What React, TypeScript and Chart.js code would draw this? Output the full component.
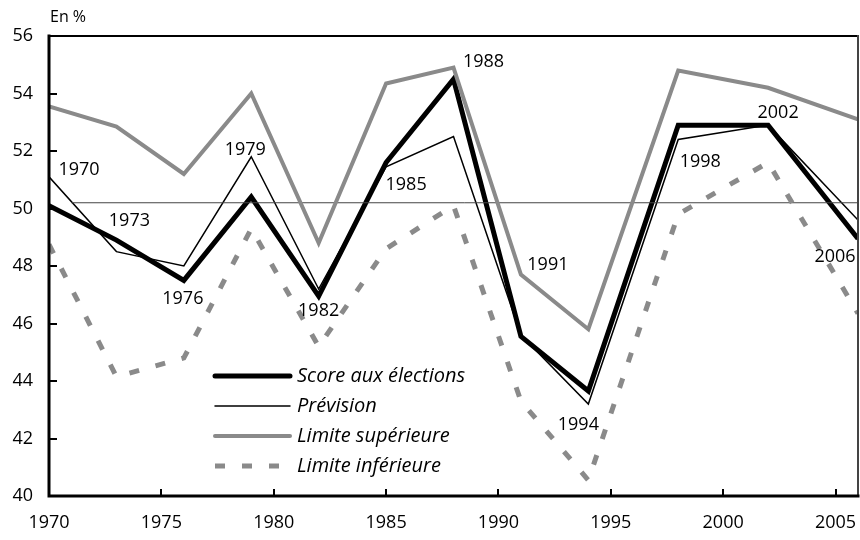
import React, { useEffect, useRef } from "react";
import { Chart, registerables } from "chart.js";

Chart.register(...registerables);

// ---- data ----
const years = [1970, 1973, 1976, 1979, 1982, 1985, 1988, 1991, 1994, 1998, 2002, 2006];
const score = [50.1, 48.9, 47.5, 50.4, 46.95, 51.6, 54.5, 45.55, 43.65, 52.9, 52.9, 48.95];
const prevision = [51.1, 48.5, 48.0, 51.8, 47.2, 51.45, 52.5, 45.6, 43.2, 52.4, 52.9, 49.6];
const upper = [53.55, 52.85, 51.2, 54.0, 48.8, 54.35, 54.9, 47.7, 45.8, 54.8, 54.2, 53.1];
const lower = [48.75, 44.15, 44.8, 49.3, 45.2, 48.6, 50.1, 43.3, 40.55, 49.8, 51.6, 46.35];
const yearLabels = years.map(String);
const referenceLevel = 50.2;
const referenceYears = [1971, 2006];
const seriesNames = ["Score aux élections", "Prévision", "Limite supérieure", "Limite inférieure"];
const unitLabel = "En %";
const xMin = 1970, xMax = 2006, xStep = 5;
const yMin = 40, yMax = 56, yStep = 2;

// ---- styles ----
const FONT = '"Open Sans", sans-serif';
const GREY = "#8a8a8a";
// pixel offsets of each year label from its score point
const labelOffsets: [number, number][] = [
  [30, -36], [13, -19], [-1, 18], [-6, -47], [0, 15], [20, 22],
  [30, -17], [27, -72], [-10, 34], [22, 37], [10, -12], [-23, 18],
];

const pts = (vals: number[]) => years.map((x, i) => ({ x, y: vals[i] }));

const overlay = {
  id: "overlay",
  afterDraw(chart: any) {
    const { ctx, chartArea: a, scales } = chart;
    const xs = scales.x, ys = scales.y;
    ctx.save();
    // frame
    ctx.lineCap = "square";
    ctx.strokeStyle = "#000";
    ctx.lineWidth = 2;
    ctx.beginPath();
    ctx.moveTo(a.left, a.top);
    ctx.lineTo(a.right, a.top);
    ctx.stroke();
    ctx.strokeStyle = "#444";
    ctx.beginPath();
    ctx.moveTo(a.right, a.top);
    ctx.lineTo(a.right, a.bottom);
    ctx.stroke();
    ctx.strokeStyle = "#000";
    ctx.lineWidth = 3;
    ctx.beginPath();
    ctx.moveTo(a.left, a.top);
    ctx.lineTo(a.left, a.bottom);
    ctx.lineTo(a.right, a.bottom);
    ctx.stroke();
    // inward ticks
    ctx.lineWidth = 2;
    ctx.lineCap = "butt";
    ctx.beginPath();
    for (let v = yMin + yStep; v < yMax; v += yStep) {
      const py = Math.round(ys.getPixelForValue(v));
      ctx.moveTo(a.left, py);
      ctx.lineTo(a.left + 8, py);
    }
    for (let v = xMin + xStep; v < xMax; v += xStep) {
      const px = Math.round(xs.getPixelForValue(v));
      ctx.moveTo(px, a.bottom);
      ctx.lineTo(px, a.bottom - 7);
    }
    ctx.stroke();
    // unit label
    ctx.fillStyle = "#000";
    ctx.font = `16px ${FONT}`;
    ctx.textAlign = "left";
    ctx.textBaseline = "middle";
    ctx.fillText(unitLabel, 50, 17);
    // year labels
    ctx.font = `18px ${FONT}`;
    ctx.textAlign = "center";
    years.forEach((yr, i) => {
      const px = xs.getPixelForValue(yr) + labelOffsets[i][0];
      const py = ys.getPixelForValue(score[i]) + labelOffsets[i][1];
      ctx.fillText(yearLabels[i], px, py);
    });
    // legend
    const lx0 = 215, lx1 = 290, tx = 297;
    const rows = [376, 406, 436, 466];
    const styles = [
      { c: "#000", w: 5, d: [] as number[] },
      { c: "#000", w: 1.5, d: [] as number[] },
      { c: GREY, w: 4, d: [] as number[] },
      { c: GREY, w: 5, d: [10, 17] },
    ];
    ctx.font = `italic 20px ${FONT}`;
    ctx.textAlign = "left";
    rows.forEach((ry, i) => {
      const s = styles[i];
      ctx.strokeStyle = s.c;
      ctx.lineWidth = s.w;
      ctx.setLineDash(s.d);
      ctx.lineCap = s.d.length ? "butt" : "round";
      ctx.beginPath();
      ctx.moveTo(lx0, ry);
      ctx.lineTo(lx1, ry);
      ctx.stroke();
      ctx.setLineDash([]);
      ctx.fillStyle = "#000";
      ctx.fillText(seriesNames[i], tx, ry);
    });
    ctx.restore();
  },
};

export default function App() {
  const ref = useRef<HTMLCanvasElement | null>(null);
  useEffect(() => {
    if (!ref.current) return;
    const chart = new Chart(ref.current, {
      type: "line",
      data: {
        datasets: [
          {
            label: seriesNames[3],
            data: pts(lower),
            borderColor: GREY,
            borderWidth: 5,
            borderDash: [10, 17],
            pointRadius: 0,
            tension: 0,
          },
          {
            label: seriesNames[2],
            data: pts(upper),
            borderColor: GREY,
            borderWidth: 4,
            pointRadius: 0,
            tension: 0,
            borderJoinStyle: "miter",
          },
          {
            label: "ref",
            data: referenceYears.map((x) => ({ x, y: referenceLevel })),
            borderColor: "#444",
            borderWidth: 1,
            pointRadius: 0,
          },
          {
            label: seriesNames[1],
            data: pts(prevision),
            borderColor: "#000",
            borderWidth: 1.5,
            pointRadius: 0,
            tension: 0,
            borderJoinStyle: "miter",
          },
          {
            label: seriesNames[0],
            data: pts(score),
            borderColor: "#000",
            borderWidth: 5,
            pointRadius: 0,
            tension: 0,
            borderJoinStyle: "miter",
          },
        ],
      },
      options: {
        animation: false,
        responsive: false,
        layout: { padding: { top: 36, right: 2, left: 0, bottom: 0 } },
        plugins: { legend: { display: false }, tooltip: { enabled: false } },
        scales: {
          x: {
            type: "linear",
            min: xMin,
            max: xMax,
            grid: { display: false, drawTicks: false },
            border: { display: false },
            ticks: {
              stepSize: xStep,
              includeBounds: false,
              autoSkip: false,
              maxRotation: 0,
              padding: 16,
              color: "#000",
              font: { family: FONT, size: 18 },
              callback: (v: any) => String(v),
            },
            afterFit: (s: any) => {
              s.height = 44;
              s.paddingLeft = 0;
              s.paddingRight = 0;
            },
          },
          y: {
            min: yMin,
            max: yMax,
            grid: { display: false, drawTicks: false },
            border: { display: false },
            ticks: {
              stepSize: yStep,
              padding: 16,
              color: "#000",
              font: { family: FONT, size: 18 },
              callback: (v: any) => String(v),
            },
            afterFit: (s: any) => {
              s.width = 49;
              s.paddingTop = 0;
              s.paddingBottom = 0;
            },
          },
        },
      },
      plugins: [overlay],
    });
    return () => chart.destroy();
  }, []);
  return (
    <div style={{ position: "absolute", left: 0, top: 0, width: 860, height: 540, background: "#fff" }}>
      <canvas ref={ref} width={860} height={540} />
    </div>
  );
}
